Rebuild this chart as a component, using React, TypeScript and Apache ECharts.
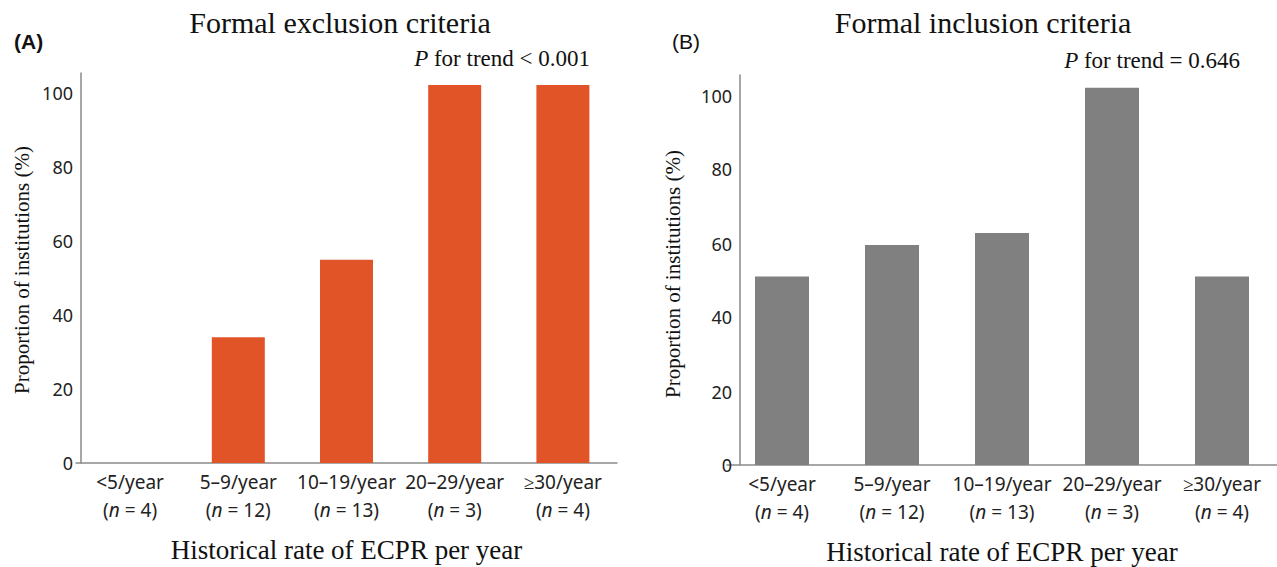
import React, { useEffect, useRef } from "react";
import * as echarts from "echarts";

const categories = ["<5/year", "5–9/year", "10–19/year", "20–29/year", "≥30/year"];
const counts = [4, 12, 13, 3, 4];
const exclusionValues = [0, 33.3, 53.8, 100, 100];
const inclusionValues = [50, 58.3, 61.5, 100, 50];
const yTickStep = 20;
const yAxisTitle = "Proportion of institutions (%)";
const xAxisTitle = "Historical rate of ECPR per year";

const SERIF = "Liberation Serif";
const SANS = "Noto Sans";
const ORANGE = "#E05428";
const GREY = "#808080";
const AXIS = "#8a8a8a";

function xAxisFor(gridIndex: number) {
  const rich: any = {
    c: { fontSize: 19, fontFamily: SANS, color: "#222", lineHeight: 28 },
    n: { fontSize: 19, fontFamily: SANS, color: "#222", lineHeight: 28, fontStyle: "italic" },
  };
  return {
    type: "category",
    gridIndex,
    data: categories,
    axisLine: { show: true, lineStyle: { color: AXIS, width: 1.5 } },
    axisTick: { show: false },
    axisLabel: {
      interval: 0,
      margin: 5,
      formatter: (v: string, i: number) => `{c|${v}}\n{c|(}{n|n}{c| = ${counts[i]})}`,
      rich,
    },
    name: xAxisTitle,
    nameLocation: "middle",
    nameGap: 73,
    nameTextStyle: { fontFamily: SERIF, fontSize: 27, color: "#111" },
  };
}

function yAxisFor(gridIndex: number, max: number, offset: number) {
  const rich: any = {};
  for (let v = 0; v <= 100; v += yTickStep) {
    const shift = Math.round(v * 0.08);
    rich["t" + v] = { fontSize: 18, fontFamily: SANS, color: "#222", padding: [shift * 2, 0, 0, 0] };
  }
  return {
    type: "value",
    gridIndex,
    min: 0,
    max,
    interval: yTickStep,
    offset,
    splitLine: { show: false },
    axisTick: { show: false },
    axisLine: { show: true, lineStyle: { color: AXIS, width: 1.5 } },
    axisLabel: {
      margin: 8,
      showMaxLabel: false,
      formatter: (v: number) => `{t${v}|${v}}`,
      rich,
    },
  };
}

function yTitle(x: number, y: number) {
  return {
    type: "text",
    x,
    y,
    rotation: Math.PI / 2,
    style: {
      text: yAxisTitle,
      font: `21px "Liberation Serif", serif`,
      fill: "#111",
      align: "center",
      verticalAlign: "middle",
    },
  };
}

function pText(x: number, y: number, txt: string) {
  return {
    type: "text",
    x,
    y,
    style: {
      text: `{i|P}{r| ${txt}}`,
      align: "right",
      verticalAlign: "middle",
      rich: {
        i: { fontFamily: SERIF, fontSize: 23, fontStyle: "italic", fill: "#111" },
        r: { fontFamily: SERIF, fontSize: 23, fill: "#111" },
      },
    },
  };
}

export default function App() {
  const ref = useRef<HTMLDivElement>(null);
  useEffect(() => {
    document.body.style.margin = "0";
    if (!ref.current) return;
    const chart = echarts.init(ref.current, null, { renderer: "svg" });
    chart.setOption({
      animation: false,
      backgroundColor: "#fff",
      grid: [
        { left: 76, width: 541, top: 73, height: 390, outerBoundsMode: "none", containLabel: false },
        { left: 727, width: 550, top: 75, height: 390, outerBoundsMode: "none", containLabel: false },
      ],
      xAxis: [xAxisFor(0), xAxisFor(1)],
      yAxis: [yAxisFor(0, 103.2, -5), yAxisFor(1, 103.4, -13)],
      series: [
        {
          type: "bar",
          xAxisIndex: 0,
          yAxisIndex: 0,
          data: exclusionValues,
          barWidth: 53,
          itemStyle: { color: ORANGE },
        },
        {
          type: "bar",
          xAxisIndex: 1,
          yAxisIndex: 1,
          data: inclusionValues,
          barWidth: 54,
          itemStyle: { color: GREY },
        },
      ],
      graphic: [
        {
          type: "text",
          x: 340,
          y: 22,
          style: { text: "Formal exclusion criteria", fontFamily: SERIF, fontSize: 30, fill: "#111", align: "center", verticalAlign: "middle" },
        },
        {
          type: "text",
          x: 983,
          y: 22,
          style: { text: "Formal inclusion criteria", fontFamily: SERIF, fontSize: 30, fill: "#111", align: "center", verticalAlign: "middle" },
        },
        {
          type: "text",
          x: 14,
          y: 41,
          style: { text: "(A)", fontFamily: "Liberation Sans", fontWeight: "bold", fontSize: 21, fill: "#111", align: "left", verticalAlign: "middle" },
        },
        {
          type: "text",
          x: 672,
          y: 41,
          style: { text: "(B)", fontFamily: "Liberation Sans", fontSize: 21, fill: "#111", align: "left", verticalAlign: "middle" },
        },
        pText(590, 58, "for trend < 0.001"),
        pText(1240, 60, "for trend = 0.646"),
        yTitle(22, 270),
        yTitle(673, 274),
      ],
    });
    return () => chart.dispose();
  }, []);
  return <div ref={ref} style={{ width: 1277, height: 567 }} />;
}
